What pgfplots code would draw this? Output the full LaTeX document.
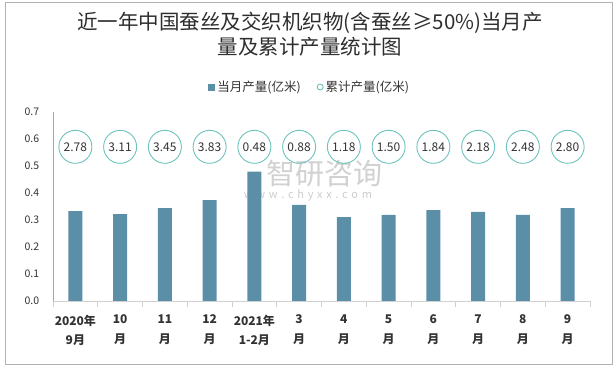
\documentclass[border=0pt]{standalone}
\usepackage{fontspec}
\setmainfont{Noto Sans CJK SC}
\usepackage{pgfplots}
\pgfplotsset{compat=1.18}
\definecolor{barc}{HTML}{5B8FA7}
\definecolor{circc}{HTML}{6CC3BC}
\definecolor{axc}{HTML}{D0D0D0}
\definecolor{yaxc}{HTML}{A6A6A6}
\definecolor{txt}{HTML}{333333}
\begin{document}
\begin{tikzpicture}[x=1pt,y=1pt]
\path[use as bounding box] (0,0) rectangle (616,367);
\draw[gray!60, line width=1pt] (5,3) rectangle (612,364);
\node[font=\fontsize{20.5}{25}\selectfont, text=txt!90!black, align=center] at (310,332.5) {近一年中国蚕丝及交织机织物(含蚕丝≥50\%)当月产\\量及累计产量统计图};
\node[font=\fontsize{29}{29}\selectfont, text=gray!45, opacity=0.8] at (324,193) {智研咨询};
\node[font=\fontsize{11}{11}\selectfont, text=gray!50, opacity=0.8] at (308,172) {w\,\,w\,\,w\,\,.\,\,c\,\,h\,\,y\,\,x\,\,x\,\,.\,\,c\,\,o\,\,m};
\begin{axis}[
  at={(53pt,66pt)}, anchor=south west, scale only axis,
  width=537pt, height=189pt,
  xmin=-0.5, xmax=11.5, ymin=0, ymax=0.7,
  axis lines*=left,
  x axis line style={draw=axc, line width=0.8pt},
  y axis line style={draw=yaxc, line width=0.8pt},
  xtick={0,...,11},
  xticklabels={{2020年\\9月},{10\\月},{11\\月},{12\\月},{2021年\\1-2月},{3\\月},{4\\月},{5\\月},{6\\月},{7\\月},{8\\月},{9\\月}},
  major x tick style={draw=none},
  minor xtick={-0.5,0.5,...,11.5},
  minor x tick style={draw=axc, line width=0.8pt},
  minor tick length=6pt,
  tick align=outside,
  xticklabel style={align=center, font=\bfseries\fontsize{12}{19.5}\selectfont, text=txt, yshift=-6pt},
  ytick={0,0.1,...,0.7},
  y tick style={draw=none},
  yticklabel style={font=\fontsize{10.5}{12}\selectfont, text=txt, xshift=-6pt},
  /pgf/number format/assume math mode=true,
  yticklabel={\pgfmathprintnumber[fixed,fixed zerofill,precision=1]{\tick}},
  legend columns=2,
  legend style={draw=none, fill=none, at={(0.478,1)}, anchor=center, yshift=25pt,
    font=\fontsize{12.5}{14}\selectfont, text=txt,
    /tikz/every even column/.append style={column sep=14pt}},
  clip=false,
]
\addplot[ybar, bar width=14pt, bar shift=0pt, fill=barc, draw=none,
  legend image code/.code={\fill[barc] (0pt,-3.5pt) rectangle (7pt,3.5pt);}]
  coordinates {(0,0.333) (1,0.322) (2,0.344) (3,0.374) (4,0.479) (5,0.356)
               (6,0.311) (7,0.319) (8,0.337) (9,0.330) (10,0.319) (11,0.344)};
\addlegendentry{当月产量(亿米)}
\addplot[draw=none, mark=none, nodes near coords, point meta=explicit symbolic,
  every node near coord/.append style={circle, draw=circc, line width=0.9pt,
    minimum size=33pt, inner sep=0pt, anchor=center, text=txt,
    font=\fontsize{12}{14}\selectfont},
  legend image code/.code={\draw[circc, line width=0.9pt] (3.5pt,0pt) circle (3pt);}]
  coordinates {(0,0.571) [2.78] (1,0.571) [3.11] (2,0.571) [3.45] (3,0.571) [3.83]
               (4,0.571) [0.48] (5,0.571) [0.88] (6,0.571) [1.18] (7,0.571) [1.50]
               (8,0.571) [1.84] (9,0.571) [2.18] (10,0.571) [2.48] (11,0.571) [2.80]};
\addlegendentry{累计产量(亿米)}
\end{axis}
\end{tikzpicture}
\end{document}
